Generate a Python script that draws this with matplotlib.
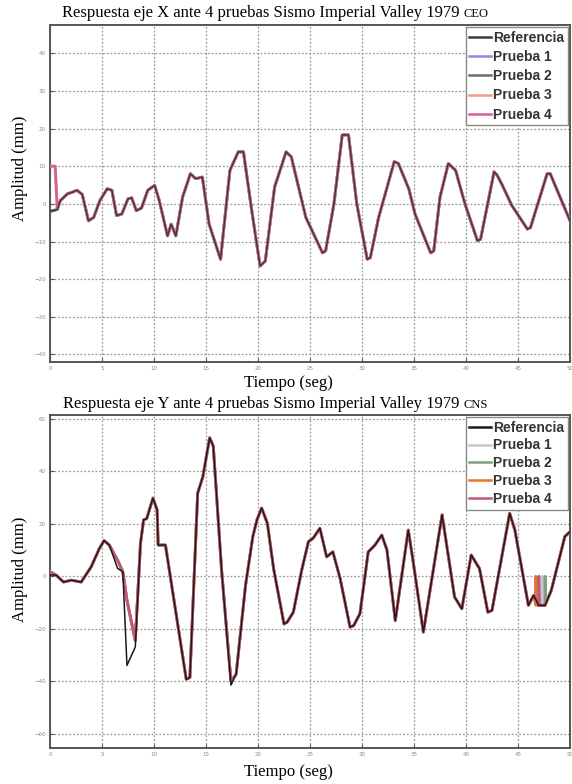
import matplotlib.pyplot as plt
import numpy as np

# --- top chart (eje X): time (s) and amplitude (mm)
t_x = [0.0, 0.7, 1.0, 1.7, 2.15, 2.6, 3.1, 3.7, 4.2, 4.8, 5.5, 5.95, 6.4, 6.9,
       7.5, 7.85, 8.3, 8.8, 9.4, 10.06, 10.5, 11.3, 11.65, 12.1, 12.75, 13.5,
       14.0, 14.65, 15.3, 16.4, 17.3, 18.1, 18.6, 19.4, 20.2, 20.7, 21.6,
       22.7, 23.2, 24.6, 26.2, 26.5, 27.3, 28.1, 28.7, 29.5, 30.5, 30.8,
       31.6, 33.1, 33.5, 34.5, 35.1, 36.6, 36.9, 37.5, 38.3, 39.0, 39.9,
       41.1, 41.4, 42.7, 43.0, 43.5, 44.4, 45.9, 46.2, 47.8, 48.1, 50.0]
ref_x = [-2.0, -1.5, 0.9, 2.7, 3.1, 3.6, 2.5, -4.5, -3.6, 0.9, 4.0, 3.6, -3.1,
         -2.7, 1.3, 1.6, -1.8, -1.1, 3.6, 4.9, 0.9, -8.5, -5.4, -8.5, 1.8, 8.0,
         6.7, 7.1, -5.4, -14.7, 8.9, 13.8, 13.8, -1.8, -16.5, -15.2, 4.5,
         13.8, 12.5, -3.6, -13.0, -12.5, 0.0, 18.3, 18.3, 0.0, -14.7, -14.3,
         -3.6, 11.2, 10.7, 4.0, -2.7, -13.0, -12.5, 1.8, 10.7, 8.9, 0.0,
         -9.8, -9.4, 8.5, 7.6, 4.9, -0.4, -6.7, -6.3, 8.0, 8.0, -4.5]
# the tests follow the reference; Prueba 3 and 4 start at 10 mm
start_t_x = [0.0, 0.5]
start_y_x = [10.0, 10.0]

# --- bottom chart (eje Y)
t_y = [0.0, 0.6, 1.3, 2.05, 3.0, 3.96, 4.75, 5.2, 5.7, 6.5, 7.0, 7.4, 8.2,
       8.7, 9.0, 9.3, 9.9, 10.3, 10.4, 11.1, 13.1, 13.45, 14.2, 14.7, 15.35,
       15.7, 16.5, 17.4, 17.9, 18.8, 19.5, 19.9, 20.35, 20.9, 21.5, 22.5,
       22.8, 23.4, 24.2, 24.85, 25.3, 25.95, 26.6, 27.2, 27.9, 28.85, 29.2,
       29.8, 30.6, 31.25, 31.9, 32.4, 33.2, 34.45, 34.9, 35.9, 37.7, 38.9,
       39.6, 40.5, 41.3, 42.1, 42.5, 44.2, 44.7, 46.0, 46.5, 47.0, 47.6,
       48.2, 49.5, 50.0]
prueba_y = [1.7, 0.4, -2.2, -1.5, -2.2, 3.6, 10.6, 13.6, 11.9, 6.1, 1.7, -9.2,
            -24.5, 12.5, 21.5, 22.0, 29.8, 25.3, 11.9, 11.9, -39.3, -38.6,
            31.7, 38.0, 52.8, 49.6, 2.3, -40.0, -37.3, -3.5, 15.1, 21.5, 26.0,
            20.2, 2.9, -18.2, -17.5, -13.7, 2.3, 13.2, 14.5, 18.3, 7.4, 9.3,
            -0.9, -19.4, -18.8, -14.3, 9.3, 11.9, 15.7, 10.0, -16.9, 17.6, 6.1,
            -21.3, 23.4, -7.9, -12.4, 8.1, 2.9, -13.7, -13.0, 24.0, 17.6,
            -11.1, -7.3, -11.1, -11.1, -5.4, 15.1, 17.0]
# reference dips deeper around 7-8 s and goes a bit lower at 17.4 s
ref_y = list(prueba_y)
ref_y[0] = 0.5
ref_y[9] = 3.0
ref_y[11] = -34.0
ref_y[12] = -27.0
ref_y[27] = -41.5
# short drops to 0 mm seen in the tests near the end
spike_t = {'Prueba 1': 47.3, 'Prueba 2': 47.6, 'Prueba 3': 46.7, 'Prueba 4': 47.0}
spike_low = -11.0

names = ['Referencia', 'Prueba 1', 'Prueba 2', 'Prueba 3', 'Prueba 4']
colors_x = ['#3c3c3c', '#8c8cd8', '#6e6e6e', '#f0a07a', '#d8609a']
colors_y = ['#1a1a1a', '#c8c8c8', '#7fa07f', '#e8742e', '#c0587c']

fig = plt.figure(figsize=(5.72, 7.84), dpi=100)
ax1 = fig.add_axes([50 / 572, 1 - 362 / 784, 520 / 572, 337 / 784])
ax2 = fig.add_axes([50 / 572, 1 - 748 / 784, 520 / 572, 333 / 784])


def with_spike(t, y, ts):
    t = list(t)
    y = list(y)
    i = int(np.searchsorted(t, ts))
    t[i:i] = [ts, ts, ts + 0.05]
    y[i:i] = [spike_low, 0.0, spike_low]
    return t, y


# top chart: tests underneath, reference drawn thin on top
ax1.plot(t_x, ref_x, color=colors_x[0], lw=1.1, label=names[0], zorder=5)
for k in range(1, 5):
    tt, yy = list(t_x), list(ref_x)
    if k >= 3:
        tt = start_t_x + tt[1:]
        yy = start_y_x + yy[1:]
    ax1.plot(tt, yy, color=colors_x[k], lw=2.0, label=names[k], zorder=2 + k * 0.5)

# bottom chart
ax2.plot(t_y, ref_y, color=colors_y[0], lw=1.1, label=names[0], zorder=5)
for k in range(1, 5):
    tt, yy = with_spike(t_y, prueba_y, spike_t[names[k]])
    ax2.plot(tt, yy, color=colors_y[k], lw=2.0, label=names[k], zorder=2 + k * 0.5)

for ax, yl, yt, lsp in [(ax1, (-42, 47.5), np.arange(-40, 41, 10), 0.38),
                        (ax2, (-65.5, 61.5), np.arange(-60, 61, 20), 0.28)]:
    ax.set_xlim(0, 50)
    ax.set_ylim(*yl)
    ax.set_xticks(np.arange(0, 51, 5))
    ax.set_yticks(yt)
    ax.grid(True, color='#9a9a9a', ls=(0, (1.5, 1.5)), lw=0.9)
    ax.tick_params(direction='in', length=3, labelsize=4, labelcolor='#8a8a8a',
                   color='#555555', pad=3)
    for s in ax.spines.values():
        s.set_color('#555555')
        s.set_linewidth(1.4)
    leg = ax.legend(loc='upper right', prop={'family': 'Liberation Sans',
                                             'weight': 'bold', 'size': 10},
                    handlelength=1.6, handletextpad=0.15, labelspacing=lsp,
                    borderpad=0.25, borderaxespad=0.15, fancybox=False,
                    framealpha=1, edgecolor='#8a8a8a')
    for line in leg.get_lines():
        line.set_linewidth(1.8)
    for txt in leg.get_texts():
        txt.set_color('#333333')

serif = 'Liberation Serif'


def sc_title(y_px, main, sc, xc=275):
    r = fig.canvas.get_renderer()
    a = fig.text(0, 0, main, fontsize=12, family=serif, va='baseline')
    b = fig.text(0, 0, sc, fontsize=9, family=serif, va='baseline')
    w1 = a.get_window_extent(r).width
    w2 = b.get_window_extent(r).width
    gap = 4
    x0 = xc - (w1 + gap + w2) / 2
    a.set_position((x0 / 572, 1 - y_px / 784))
    b.set_position(((x0 + w1 + gap) / 572, 1 - y_px / 784))


sc_title(17, 'Respuesta eje X ante 4 pruebas Sismo Imperial Valley 1979', 'CEO')
sc_title(408, 'Respuesta eje Y ante 4 pruebas Sismo Imperial Valley 1979', 'CNS')

fig.text(288 / 572, 1 - 383 / 784, 'Tiempo (seg)', fontsize=12, family=serif,
         ha='center', va='center')
fig.text(288 / 572, 1 - 772 / 784, 'Tiempo (seg)', fontsize=12, family=serif,
         ha='center', va='center')
fig.text(20 / 572, 1 - 168 / 784, 'Amplitud (mm)', fontsize=12, family=serif,
         ha='center', va='center', rotation=90)
fig.text(20 / 572, 1 - 569 / 784, 'Amplitud (mm)', fontsize=12, family=serif,
         ha='center', va='center', rotation=90)

fig.savefig('out.png', dpi=100)
